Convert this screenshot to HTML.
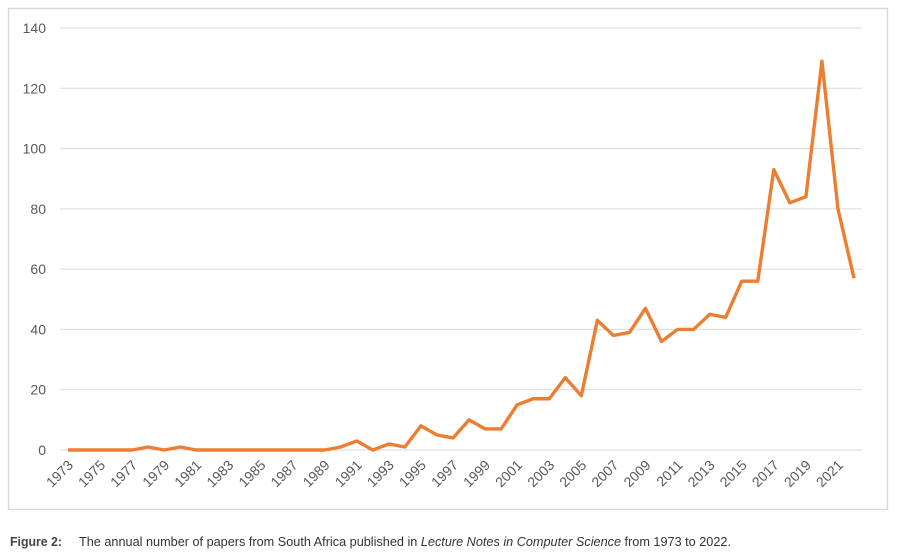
<!DOCTYPE html>
<html><head><meta charset="utf-8"><style>
body{margin:0;background:#fff;}
svg{display:block;font-family:"Liberation Sans",sans-serif;}
</style></head><body>
<svg id="chart" width="918" height="560">
<rect x="8.5" y="8.5" width="879" height="501" fill="#fff" stroke="#d9d9d9" stroke-width="1.5"/>
<g id="grid"></g><g id="ylabels"></g><g id="xlabels"></g><g id="series"></g>
<text x="10" y="546" font-size="13" font-weight="bold" fill="#444" textLength="52" lengthAdjust="spacingAndGlyphs">Figure 2:</text>
<text x="79" y="546" font-size="13" fill="#333" textLength="652" lengthAdjust="spacingAndGlyphs">The annual number of papers from South Africa published in <tspan font-style="italic">Lecture Notes in Computer Science</tspan> from 1973 to 2022.</text>
</svg>
<script>
const years=[];for(let y=1973;y<=2022;y++)years.push(y);
const values=[0,0,0,0,0,1,0,1,0,0,0,0,0,0,0,0,0,1,3,0,2,1,8,5,4,10,7,7,15,17,17,24,18,43,38,39,47,36,40,40,45,44,56,56,93,82,84,129,80,57];
const yTicks=[0,20,40,60,80,100,120,140];
const NS="http://www.w3.org/2000/svg";
const x0=68,x1=854,yb=450,yt=28,yMax=140;
const xs=i=>x0+(x1-x0)*i/(years.length-1);
const ys=v=>yb-(yb-yt)*v/yMax;
function mk(t,a,p){const e=document.createElementNS(NS,t);for(const k in a)e.setAttribute(k,a[k]);document.getElementById(p).appendChild(e);return e;}
yTicks.forEach(v=>{
 const l=mk('line',{x1:60,x2:862,y1:ys(v),y2:ys(v),stroke:'#d9d9d9','stroke-width':1},'grid');
 
 
 const t=mk('text',{x:46,y:ys(v)+5,'text-anchor':'end','font-size':14,fill:'#595959'},'ylabels');
 t.textContent=v;
 
 
});
years.forEach((yr,i)=>{
 if(i%2)return;
 const x=xs(i)+6,y=466;
 const t=mk('text',{x:x,y:y,'text-anchor':'end','font-size':14,fill:'#595959',transform:`rotate(-45 ${x} ${y})`},'xlabels');
 t.textContent=yr;
 
 
});
const p=mk('polyline',{points:values.map((v,i)=>xs(i)+','+ys(v)).join(' '),fill:'none',stroke:'#ed7d31','stroke-width':3.4,'stroke-linejoin':'round'},'series');


</script>
</body></html>
